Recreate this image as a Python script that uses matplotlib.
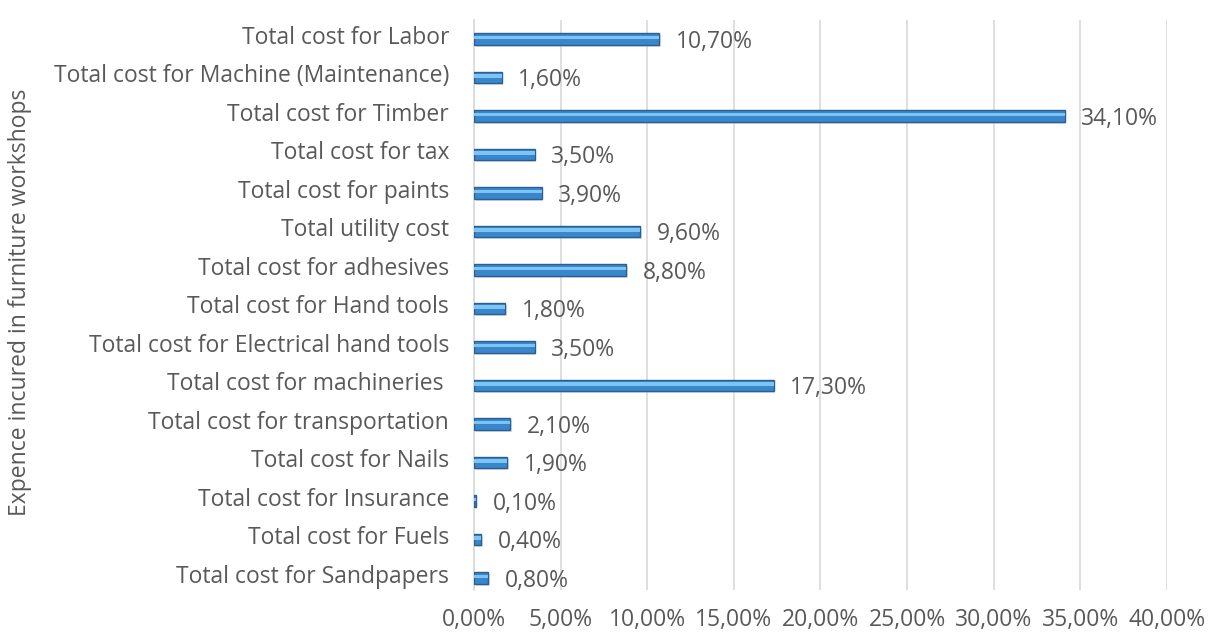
import matplotlib
matplotlib.use("Agg")
import matplotlib.pyplot as plt
import matplotlib.transforms as mtransforms
import numpy as np

categories = [
    "Total cost for Labor",
    "Total cost for Machine (Maintenance)",
    "Total cost for Timber",
    "Total cost for tax",
    "Total cost for paints",
    "Total utility cost",
    "Total cost for adhesives",
    "Total cost for Hand tools",
    "Total cost for Electrical hand tools",
    "Total cost for machineries ",
    "Total cost for transportation",
    "Total cost for Nails",
    "Total cost for Insurance",
    "Total cost for Fuels",
    "Total cost for Sandpapers",
]
values = [10.7, 1.6, 34.1, 3.5, 3.9, 9.6, 8.8, 1.8, 3.5, 17.3, 2.1, 1.9, 0.1, 0.4, 0.8]
xticks = [0, 5, 10, 15, 20, 25, 30, 35, 40]

plt.rcParams["font.family"] = ["Open Sans", "DejaVu Sans"]
text_col = "#595959"
fs = 16.5

fig = plt.figure(figsize=(12.22, 6.37), dpi=100)
ax = fig.add_axes([0.3879, 0.0738, 0.567, 0.8952])

y = np.arange(len(categories))[::-1]
bar_h = 0.30
# soft shadow under each bar
ax.barh(y - 0.05, values, height=bar_h, left=0.1, color="#9AA7B4",
        alpha=0.35, linewidth=0, zorder=2)
ax.barh(y, values, height=bar_h, color="#3A86CC", edgecolor="#2B5F93",
        linewidth=1.0, zorder=3)
# lighter top strip for the bevel look
ax.barh(y + bar_h * 0.14, values, height=bar_h * 0.32, color="#7CC4F2",
        linewidth=0, zorder=4)

for yi, v in zip(y, values):
    ax.annotate(f"{v:.2f}%".replace(".", ","), (v, yi), xytext=(12, -2),
                textcoords="offset points", va="center", ha="left",
                fontsize=fs, color=text_col)

ax.set_xlim(0, 40)
ax.set_ylim(-0.31, len(categories) - 0.5)
ax.set_xticks(xticks)
ax.set_xticklabels([f"{t:.2f}%".replace(".", ",") for t in xticks])
ax.set_yticks(y)
ax.set_yticklabels(categories)
ax.tick_params(axis="both", length=0, labelsize=fs, colors=text_col)
ax.tick_params(axis="x", pad=13)
ax.tick_params(axis="y", pad=18)
# nudge category labels slightly up like the original
shift = mtransforms.ScaledTranslation(0, 3 / 72, fig.dpi_scale_trans)
for lab in ax.get_yticklabels():
    lab.set_transform(lab.get_transform() + shift)
ax.grid(axis="x", color="#D9D9D9", linewidth=1.2, zorder=0)
for s in ["top", "right", "bottom"]:
    ax.spines[s].set_visible(False)
ax.spines["left"].set_color("#D9D9D9")
ax.spines["left"].set_linewidth(1.2)

fig.text(0.0164, 0.526, "Expence incured in furniture workshops", rotation=90,
         va="center", ha="center", fontsize=fs, color=text_col)

fig.savefig("out.png", dpi=100)
